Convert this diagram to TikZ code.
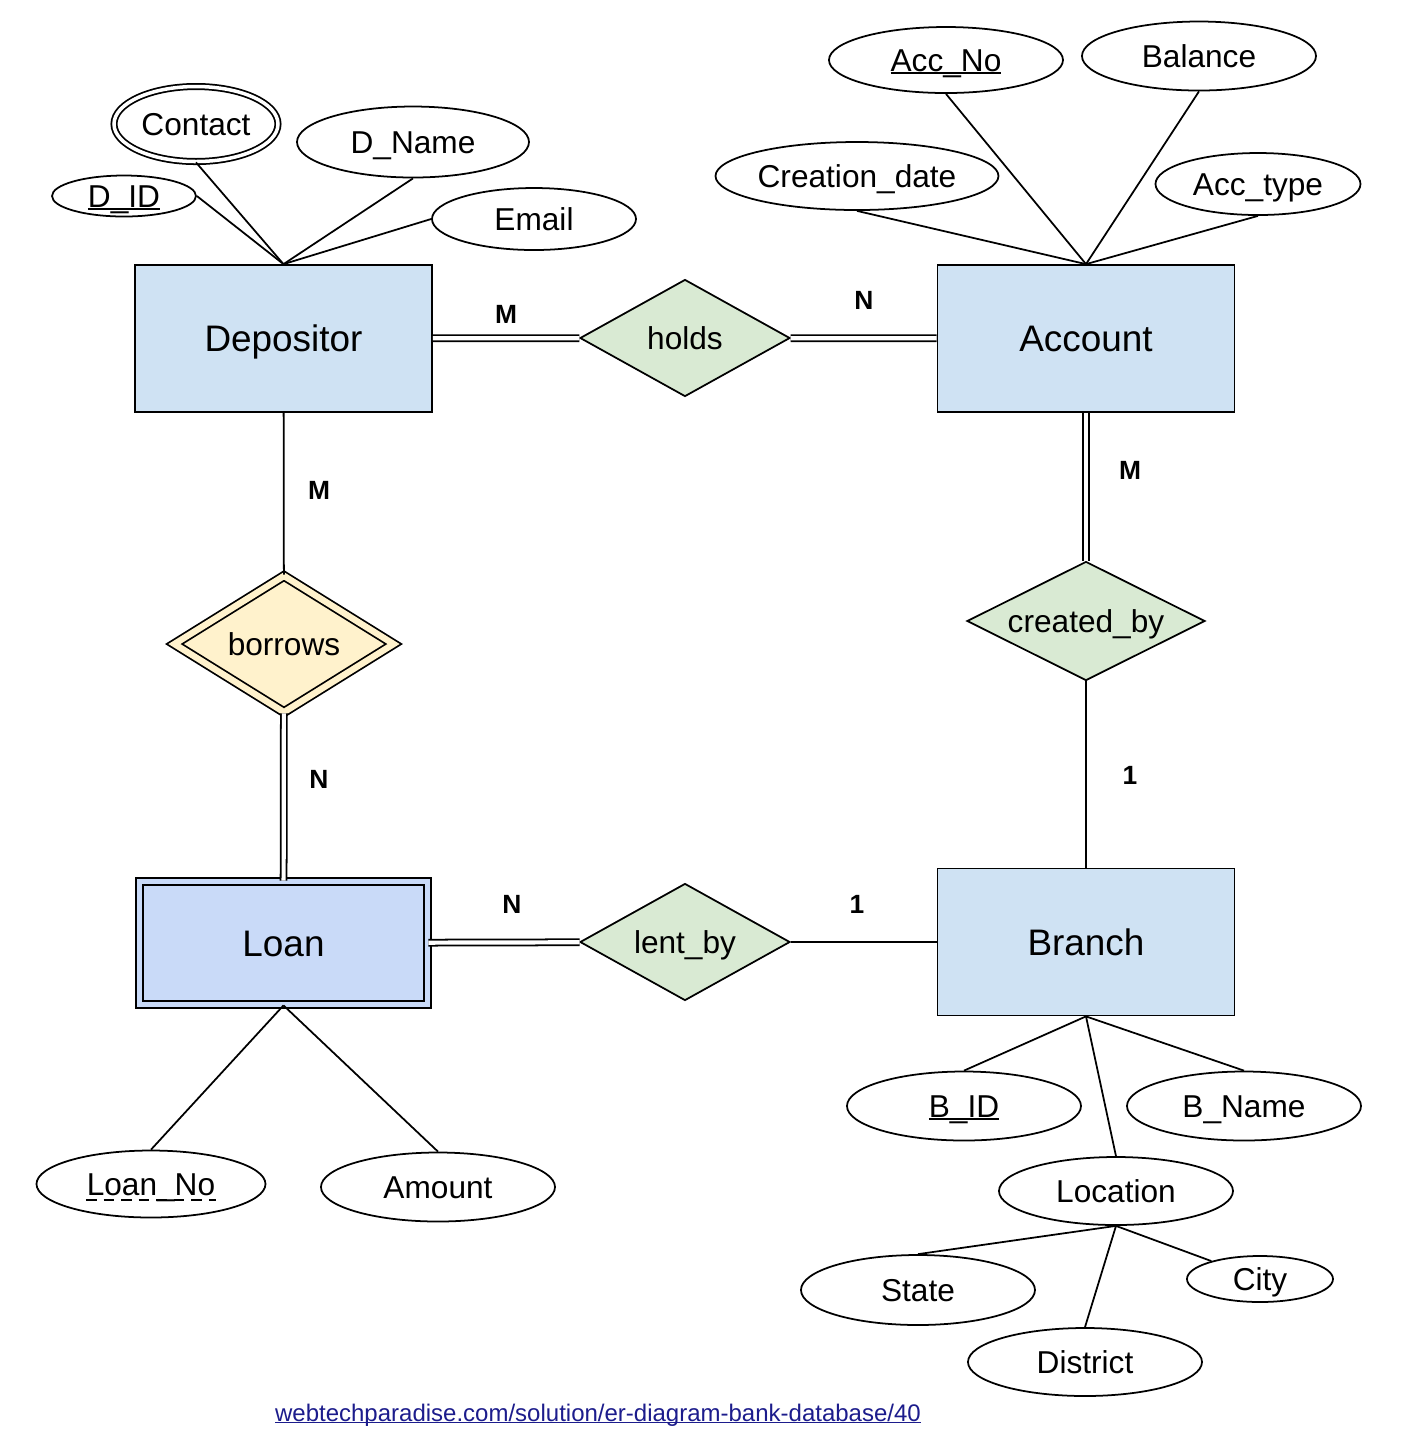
\documentclass[tikz,border=0pt]{standalone}
\usepackage{fontspec}
\setmainfont{Liberation Sans}
\usetikzlibrary{shapes.geometric}
\definecolor{entfill}{HTML}{CFE2F3}
\definecolor{weakfill}{HTML}{C9DAF8}
\definecolor{relfill}{HTML}{D9EAD3}
\definecolor{idfill}{HTML}{FFF2CC}
\definecolor{link}{HTML}{1C1C8C}
\newcommand\keyline[1]{\setbox0\hbox{#1}\rlap{\rule[-.09em]{\wd0}{.07em}}\box0}

\begin{document}
\begin{tikzpicture}[line width=.5pt,entity/.style={draw,fill=entfill,minimum width=2.97cm,minimum height=1.47cm,inner sep=0pt,text height=7.6pt,text depth=0pt,font=\fontsize{10.5}{12}\selectfont},weak/.style={entity,fill=weakfill,double=weakfill,double distance=1.6pt,minimum width=2.88cm,minimum height=1.23cm},rel/.style={diamond,draw,fill=relfill,aspect=2,inner sep=0pt,minimum width=2.1cm,minimum height=1.17cm,text height=6.5pt,text depth=0pt,font=\fontsize{9}{11}\selectfont},idrel/.style={rel,fill=idfill,double=idfill,double distance=1.8pt},attr/.style={ellipse,draw,fill=white,inner sep=0pt,minimum width=2.34cm,minimum height=.68cm,text height=6.5pt,text depth=0pt,font=\fontsize{9}{11}\selectfont},multi/.style={attr,double,double distance=1pt},card/.style={font=\fontsize{7.5}{9}\selectfont\bfseries},dbl/.style={double,double distance=1.2pt},partial/.style={dash pattern=on 3pt off 2pt,line width=.7pt}]
 \path[use as bounding box,fill=white] (0,0) rectangle (14.03,-14.39);
 \node[entity] (dep) at (2.835,-3.385) {Depositor};
 \node[entity] (acc) at (10.86,-3.385) {Account};
 \node[weak] (loan) at (2.835,-9.43) {Loan};
 \node[entity] (branch) at (10.86,-9.42) {Branch};
 \node[rel] (holds) at (6.85,-3.38) {holds};
 \node[rel,minimum width=2.38cm,minimum height=1.19cm] (created) at (10.86,-6.21) {created\_by};
 \node[idrel,minimum width=2.2cm,minimum height=1.37cm] (borrows) at (2.84,-6.44) {borrows};
 \node[rel] (lent) at (6.85,-9.42) {lent\_by};
 \node[multi,minimum width=1.64cm,minimum height=.75cm] (contact) at (1.96,-1.24) {Contact};
 \node[attr,minimum width=1.44cm,minimum height=.41cm] (did) at (1.24,-1.96) {\keyline{D\_ID}};
 \node[attr,minimum width=2.32cm,minimum height=.71cm] (dname) at (4.13,-1.42) {D\_Name};
 \node[attr,minimum width=2.04cm,minimum height=.62cm] (email) at (5.34,-2.19) {Email};
 \node[attr,minimum height=.66cm] (accno) at (9.46,-.60) {\keyline{Acc\_No}};
 \node[attr,minimum height=.69cm] (bal) at (11.99,-.56) {Balance};
 \node[attr,minimum width=2.83cm,inner xsep=-2mm] (cdate) at (8.57,-1.76) {Creation\_date};
 \node[attr,minimum width=2.05cm,minimum height=.62cm] (acctype) at (12.58,-1.84) {Acc\_type};
 \node[attr,minimum height=.69cm] (bid) at (9.64,-11.06) {\keyline{B\_ID}};
 \node[attr,minimum height=.69cm] (bname) at (12.44,-11.06) {B\_Name};
 \node[attr] (loc) at (11.16,-11.91) {Location};
 \node[attr,minimum height=.70cm] (state) at (9.18,-12.90) {State};
 \node[attr,minimum width=1.46cm,minimum height=.46cm] (city) at (12.60,-12.79) {City};
 \node[attr] (district) at (10.85,-13.62) {District};
 \node[attr,minimum width=2.29cm,minimum height=.67cm] (loanno) at (1.51,-11.84) {Loan\_No};
 \draw[partial] ([xshift=-6.5mm,yshift=-1.6mm]loanno.center) -- ([xshift=6.5mm,yshift=-1.6mm]loanno.center);
 \node[attr,minimum height=.69cm] (amount) at (4.38,-11.87) {Amount};
 \node[card] (m1) at (5.06,-3.14) {M};
 \node[card] (n1) at (8.64,-3.00) {N};
 \node[card] (m2) at (11.30,-4.70) {M};
 \node[card] (o1) at (11.30,-7.75) {1};
 \node[card] (m3) at (3.19,-4.90) {M};
 \node[card] (n2) at (3.19,-7.79) {N};
 \node[card] (n3) at (5.12,-9.04) {N};
 \node[card] (o2) at (8.57,-9.04) {1};
 \node[text=link,font=\fontsize{6.83}{8}\selectfont] (url) at (5.98,-14.15) {\keyline{webtechparadise.com/solution/er-diagram-bank-database/40}};
 \draw[dbl] (dep) -- (holds);
 \draw[dbl] (holds) -- (acc);
 \draw[dbl] (acc) -- (created);
 \draw (created) -- (branch);
 \draw (dep) -- (borrows);
 \draw[dbl] (borrows) -- (loan);
 \draw[dbl] (loan) -- (lent);
 \draw (lent) -- (branch);
 \draw (contact.south) -- (dep.north);
 \draw (did.east) -- (dep.north);
 \draw (dname.south) -- (dep.north);
 \draw (email.west) -- (dep.north);
 \draw (accno.south) -- (acc.north);
 \draw (bal.south) -- (acc.north);
 \draw (cdate.south) -- (acc.north);
 \draw (acctype.south) -- (acc.north);
 \draw (bid.north) -- (branch.south);
 \draw (bname.north) -- (branch.south);
 \draw (loc.north) -- (branch.south);
 \draw (state.north) -- (loc.south);
 \draw (city) -- (loc.south);
 \draw (district.north) -- (loc.south);
 \draw (loanno.north) -- (loan.south);
 \draw (amount.north) -- (loan.south);
\end{tikzpicture}
\end{document}
